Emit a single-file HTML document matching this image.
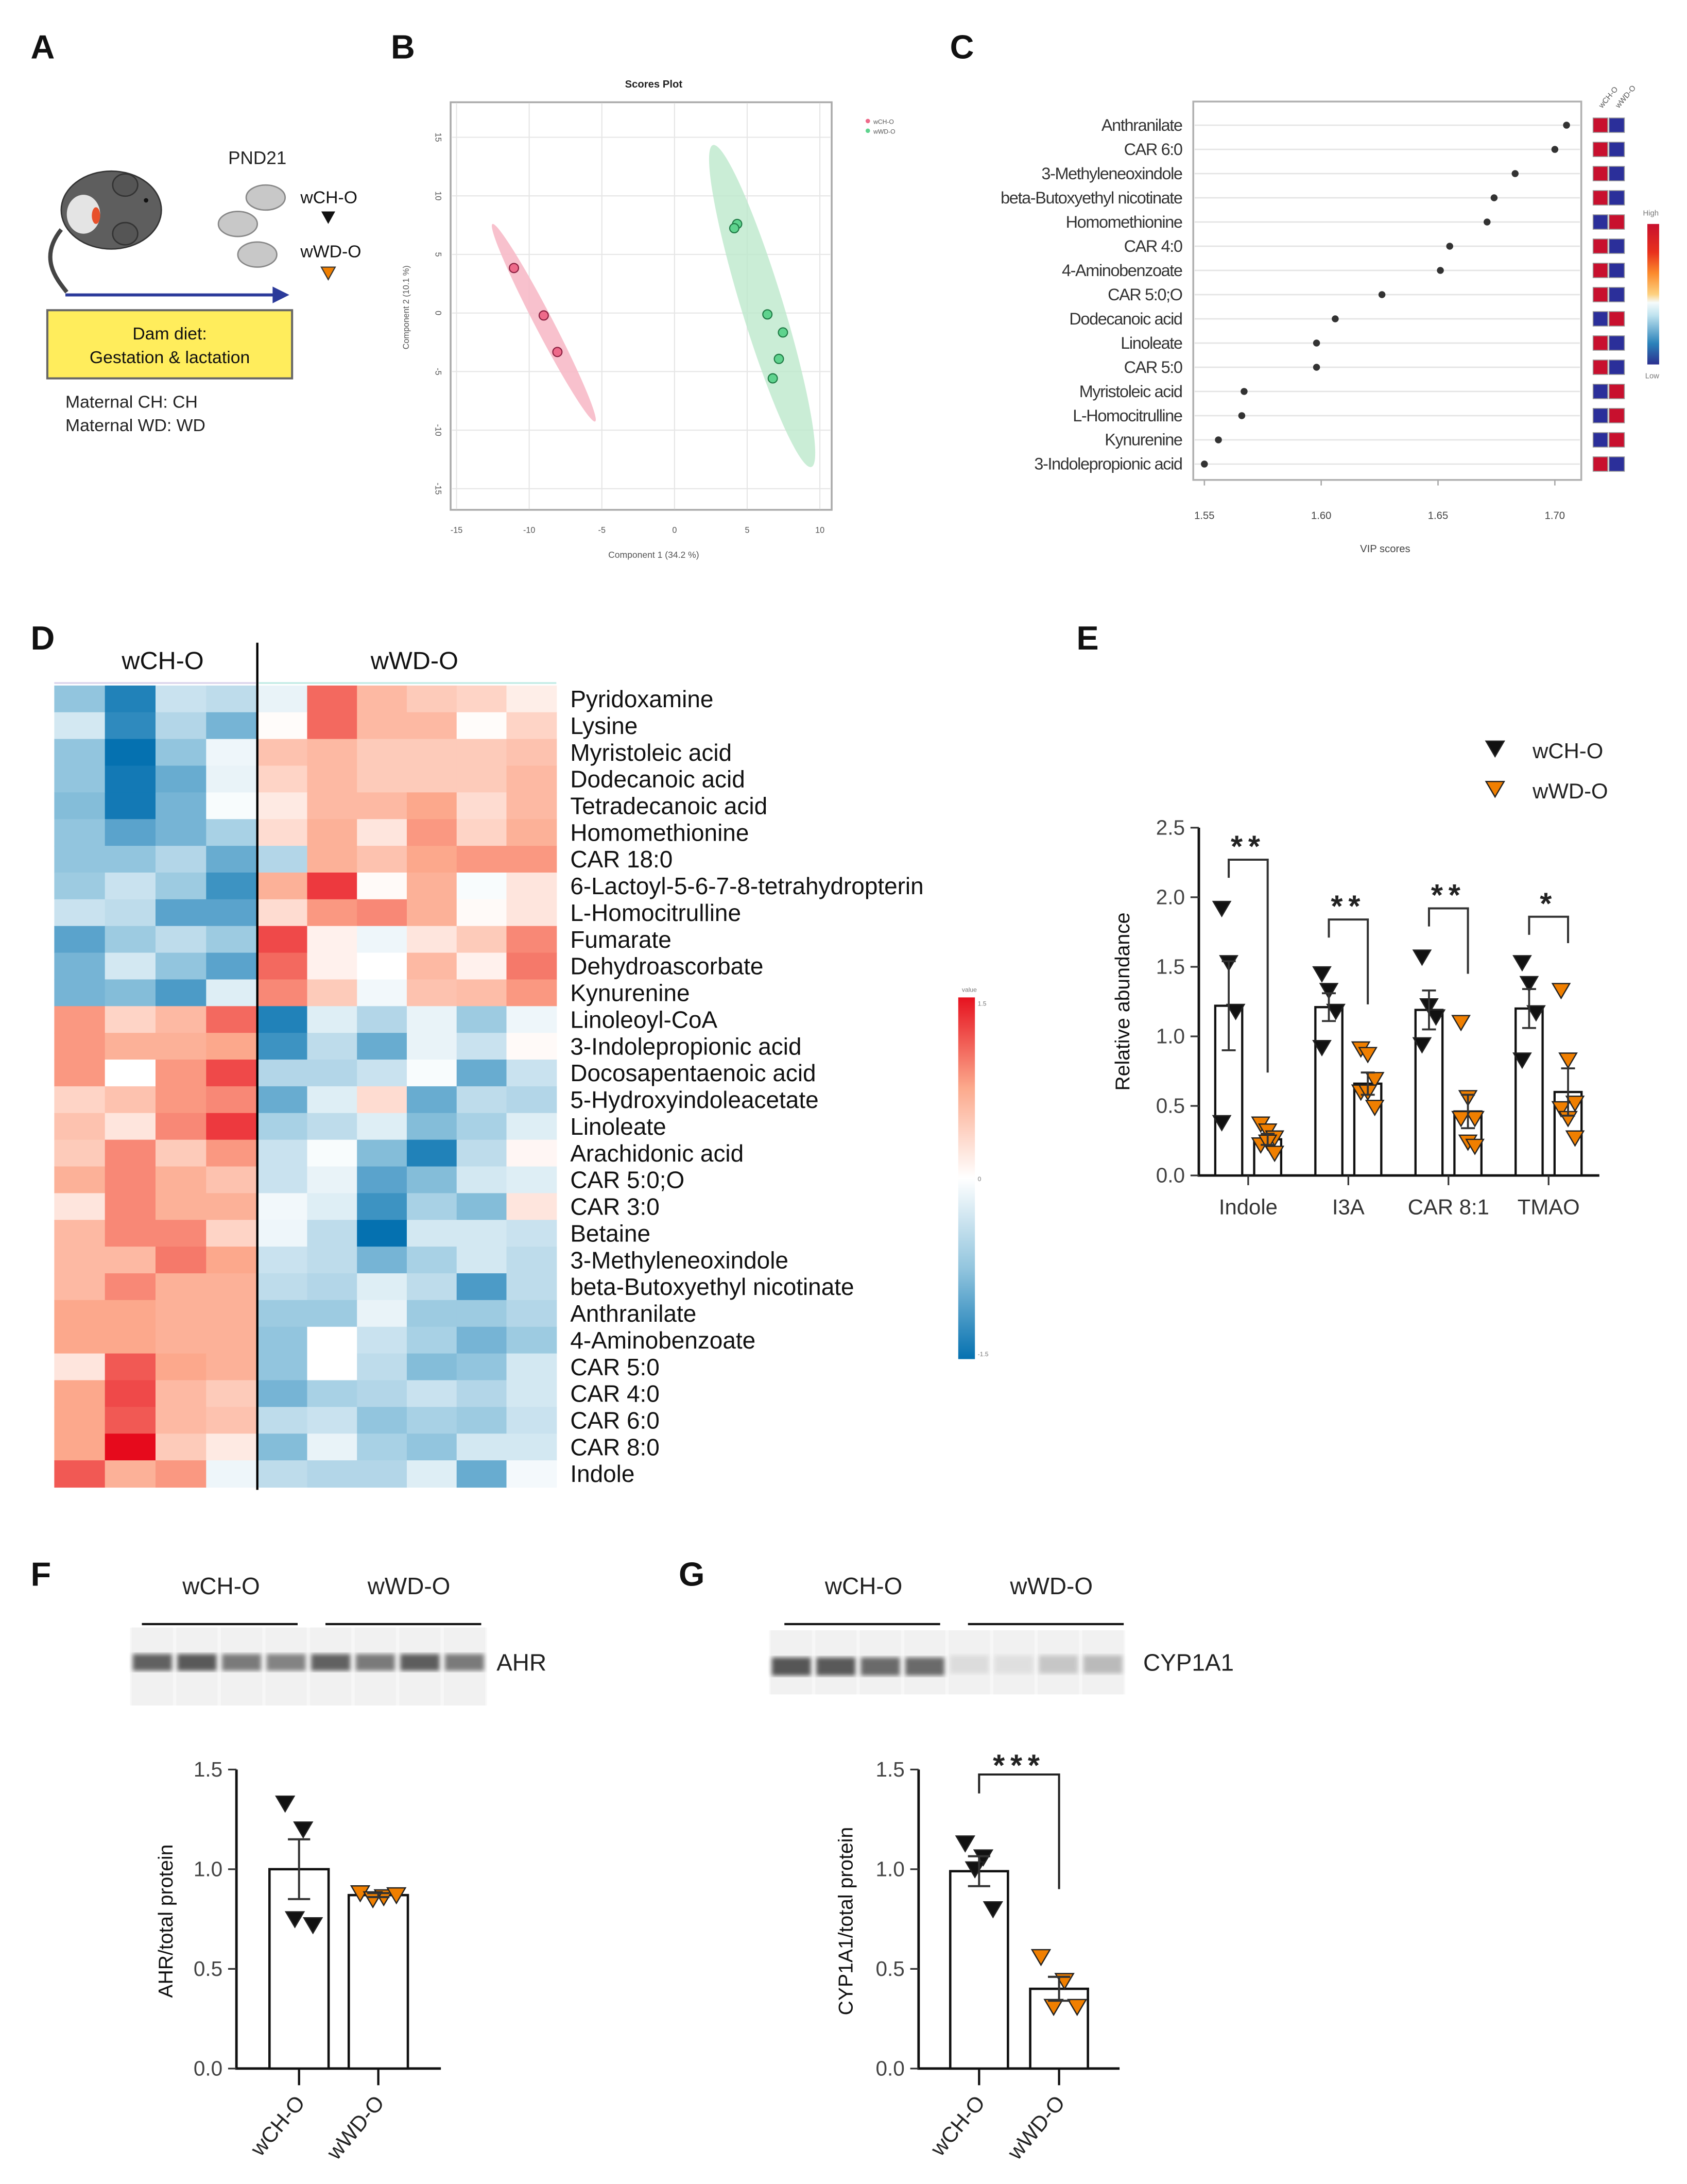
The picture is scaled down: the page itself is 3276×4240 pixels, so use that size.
<!DOCTYPE html>
<html><head><meta charset="utf-8"><style>
html,body{margin:0;padding:0;background:#fff;}
svg{display:block;font-family:"Liberation Sans",Arial,sans-serif;}
</style></head><body>
<svg id="fig" xmlns="http://www.w3.org/2000/svg" width="3276" height="4240" viewBox="0 0 1213 1570">
<defs>
<linearGradient id="hmbar" x1="0" y1="0" x2="0" y2="1"><stop offset="0" stop-color="#e6121f"/><stop offset="0.25" stop-color="#fca98c"/><stop offset="0.5" stop-color="#ffffff"/><stop offset="0.75" stop-color="#92c5de"/><stop offset="1" stop-color="#0571b0"/></linearGradient>
<linearGradient id="vipbar" x1="0" y1="0" x2="0" y2="1"><stop offset="0" stop-color="#c8102e"/><stop offset="0.2" stop-color="#e8301c"/><stop offset="0.35" stop-color="#fb8a2c"/><stop offset="0.5" stop-color="#fdd17f"/><stop offset="0.56" stop-color="#f5fbfb"/><stop offset="0.65" stop-color="#bfe3ef"/><stop offset="0.85" stop-color="#2b83ba"/><stop offset="1" stop-color="#2b2f8f"/></linearGradient>
<filter id="blur1"><feGaussianBlur stdDeviation="1.6"/></filter>
</defs>

<g font-weight="bold" font-size="24" fill="#111">
<text x="22" y="42">A</text>
<text x="281" y="42">B</text>
<text x="683" y="42">C</text>
<text x="22" y="467">D</text>
<text x="774" y="467">E</text>
<text x="22" y="1140">F</text>
<text x="488" y="1140">G</text>
</g>

<g id="panelA">
<path d="M44,165 C28,185 40,200 48,210" stroke="#444" stroke-width="3" fill="none"/>
<ellipse cx="80" cy="151" rx="36" ry="28" fill="#5e5e5e" stroke="#333" stroke-width="1"/>
<ellipse cx="90" cy="133" rx="9" ry="8" fill="#555" stroke="#333"/>
<ellipse cx="90" cy="168" rx="9" ry="8" fill="#555" stroke="#333"/>
<ellipse cx="60" cy="154" rx="12" ry="14" fill="#e4e4e4"/>
<ellipse cx="69" cy="155" rx="3" ry="6" fill="#e8502a"/>
<circle cx="105" cy="144" r="1.6" fill="#111"/>
<text x="185" y="118" font-size="13" text-anchor="middle" fill="#222">PND21</text>
<ellipse cx="191" cy="142" rx="14" ry="9" fill="#c8c8c8" stroke="#888"/>
<ellipse cx="171" cy="161" rx="14" ry="9" fill="#c8c8c8" stroke="#888"/>
<ellipse cx="185" cy="183" rx="14" ry="9" fill="#c8c8c8" stroke="#888"/>
<text x="216" y="146" font-size="12.5" fill="#111">wCH-O</text>
<path d="M231,152 L241,152 L236,161 Z" fill="#111"/>
<text x="216" y="185" font-size="12.5" fill="#111">wWD-O</text>
<path d="M231,192 L241,192 L236,201 Z" fill="#f07f00" stroke="#333" stroke-width="0.8"/>
<line x1="47" y1="212" x2="198" y2="212" stroke="#2b3a9a" stroke-width="2.2"/>
<path d="M196,206 L208,212 L196,218 Z" fill="#2b3a9a"/>
<rect x="34" y="223" width="176" height="49" fill="#ffed5c" stroke="#666" stroke-width="1.5"/>
<text x="122" y="244" font-size="12.5" text-anchor="middle" fill="#111">Dam diet:</text>
<text x="122" y="261" font-size="12.5" text-anchor="middle" fill="#111">Gestation &amp; lactation</text>
<text x="47" y="293" font-size="12.5" fill="#222">Maternal CH: CH</text>
<text x="47" y="310" font-size="12.5" fill="#222">Maternal WD: WD</text>
</g>

<g id="panelB"></g>
<g id="panelC"></g>
<g id="panelD"></g>
<g id="panelE"></g>
<g id="panelF"></g>
<g id="panelG"></g>
</svg>

<script>
// Panel B (PLS-DA scores)
const bPinkX = [-11.05, -9.0, -8.06];
const bPinkY = [3.84, -0.21, -3.33];
const bGreenX = [4.31, 4.11, 6.39, 7.46, 7.18, 6.76];
const bGreenY = [7.6, 7.24, -0.12, -1.66, -3.92, -5.58];
const bXTicks = [-15, -10, -5, 0, 5, 10];
const bYTicks = [15, 10, 5, 0, -5, -10, -15];

// Panel C (VIP)
const vipNames = ["Anthranilate","CAR 6:0","3-Methyleneoxindole","beta-Butoxyethyl  nicotinate","Homomethionine","CAR 4:0","4-Aminobenzoate","CAR 5:0;O","Dodecanoic  acid","Linoleate","CAR 5:0","Myristoleic acid","L-Homocitrulline","Kynurenine","3-Indolepropionic  acid"];
const vipScores = [1.705, 1.700, 1.683, 1.674, 1.671, 1.655, 1.651, 1.626, 1.606, 1.598, 1.598, 1.567, 1.566, 1.556, 1.550];
const vipCHHigh = [1,1,1,1,0,1,1,1,0,1,1,0,0,0,1];
const vipTicks = [1.55, 1.60, 1.65, 1.70];

// Panel D (heatmap)
const hmRows = ["Pyridoxamine","Lysine","Myristoleic acid","Dodecanoic acid","Tetradecanoic acid","Homomethionine","CAR 18:0","6-Lactoyl-5-6-7-8-tetrahydropterin","L-Homocitrulline","Fumarate","Dehydroascorbate","Kynurenine","Linoleoyl-CoA","3-Indolepropionic acid","Docosapentaenoic acid","5-Hydroxyindoleacetate","Linoleate","Arachidonic acid","CAR 5:0;O","CAR 3:0","Betaine","3-Methyleneoxindole","beta-Butoxyethyl nicotinate","Anthranilate","4-Aminobenzoate","CAR 5:0","CAR 4:0","CAR 6:0","CAR 8:0","Indole"];
const hmValues = [
[-0.5,-0.9,-0.25,-0.3,-0.1,0.7,0.4,0.3,0.25,0.1],
[-0.2,-0.85,-0.35,-0.6,0.02,0.7,0.4,0.4,0.02,0.25],
[-0.5,-1.0,-0.5,-0.08,0.35,0.4,0.3,0.3,0.3,0.35],
[-0.5,-0.95,-0.65,-0.1,0.25,0.4,0.3,0.3,0.3,0.4],
[-0.55,-0.95,-0.6,-0.03,0.12,0.4,0.4,0.5,0.2,0.4],
[-0.5,-0.7,-0.6,-0.4,0.2,0.45,0.15,0.55,0.25,0.45],
[-0.5,-0.5,-0.35,-0.65,-0.35,0.45,0.35,0.5,0.55,0.55],
[-0.45,-0.25,-0.45,-0.8,0.45,0.85,0.03,0.45,-0.03,0.15],
[-0.25,-0.3,-0.7,-0.7,0.2,0.55,0.6,0.45,0.03,0.15],
[-0.7,-0.45,-0.3,-0.45,0.8,0.08,-0.08,0.15,0.3,0.6],
[-0.6,-0.2,-0.5,-0.7,0.7,0.08,0.0,0.4,0.08,0.65],
[-0.6,-0.55,-0.75,-0.15,0.6,0.3,-0.06,0.35,0.38,0.55],
[0.55,0.25,0.4,0.7,-0.9,-0.15,-0.35,-0.1,-0.45,-0.08],
[0.55,0.45,0.45,0.5,-0.8,-0.3,-0.65,-0.1,-0.25,0.03],
[0.55,0.0,0.55,0.8,-0.35,-0.35,-0.25,-0.03,-0.65,-0.25],
[0.25,0.35,0.55,0.6,-0.65,-0.15,0.2,-0.65,-0.3,-0.35],
[0.35,0.15,0.6,0.85,-0.4,-0.3,-0.15,-0.55,-0.4,-0.15],
[0.3,0.6,0.3,0.55,-0.25,-0.03,-0.55,-0.9,-0.3,0.05],
[0.45,0.6,0.45,0.35,-0.25,-0.1,-0.7,-0.55,-0.2,-0.15],
[0.15,0.6,0.45,0.45,-0.06,-0.15,-0.8,-0.4,-0.55,0.15],
[0.4,0.6,0.6,0.25,-0.08,-0.3,-1.0,-0.2,-0.2,-0.25],
[0.4,0.4,0.65,0.5,-0.25,-0.3,-0.6,-0.4,-0.2,-0.3],
[0.4,0.6,0.45,0.45,-0.3,-0.35,-0.15,-0.3,-0.75,-0.3],
[0.5,0.5,0.45,0.45,-0.45,-0.45,-0.1,-0.45,-0.45,-0.35],
[0.5,0.5,0.45,0.45,-0.5,0.0,-0.25,-0.4,-0.6,-0.45],
[0.15,0.75,0.5,0.45,-0.5,0.0,-0.3,-0.55,-0.5,-0.2],
[0.5,0.8,0.4,0.3,-0.6,-0.4,-0.35,-0.25,-0.35,-0.2],
[0.5,0.75,0.4,0.35,-0.3,-0.25,-0.5,-0.4,-0.45,-0.25],
[0.5,1.0,0.3,0.12,-0.55,-0.1,-0.4,-0.5,-0.2,-0.2],
[0.75,0.45,0.55,-0.08,-0.3,-0.35,-0.35,-0.15,-0.65,-0.05]
];

// Panel E
const eCategories = ["Indole","I3A","CAR 8:1","TMAO"];
const eCHMean = [1.22, 1.21, 1.19, 1.20];
const eCHSem = [0.32, 0.10, 0.14, 0.14];
const eWDMean = [0.26, 0.66, 0.46, 0.60];
const eWDSem = [0.04, 0.08, 0.12, 0.17];
const eCHPoints = [[1.92,1.53,1.18,0.38],[1.45,1.33,1.18,0.92],[1.57,1.22,1.14,0.94],[1.53,1.38,1.17,0.83]];
const eWDPoints = [[0.37,0.32,0.27,0.22,0.24,0.16],[0.91,0.87,0.69,0.6,0.6,0.49],[1.1,0.56,0.41,0.41,0.24,0.21],[1.33,0.83,0.52,0.48,0.41,0.27]];
const eSig = ["**","**","**","*"];
const eBracketTop = [2.27, 1.84, 1.92, 1.86];
const eLeftEnd = [2.14, 1.71, 1.79, 1.73];
const eRightEnd = [0.74, 1.23, 1.45, 1.67];
const eYTicks = ["0.0","0.5","1.0","1.5","2.0","2.5"];

// Panel F
const fMean = [1.0, 0.87];
const fSem = [0.15, 0.01];
const fPoints = [[1.33,1.2,0.75,0.72],[0.88,0.86,0.85,0.87]];
const fLanes = [0.85,0.9,0.7,0.65,0.85,0.7,0.88,0.7];

// Panel G
const gMean = [0.99, 0.40];
const gSem = [0.075, 0.06];
const gPoints = [[1.13,1.06,1.0,0.8],[0.56,0.44,0.31,0.31]];
const gLanes = [0.92,0.9,0.8,0.8,0.12,0.1,0.25,0.32];
const fgYTicks = ["0.0","0.5","1.0","1.5"];
const fgGroups = ["wCH-O","wWD-O"];

const NS = "http://www.w3.org/2000/svg";
function mk(tag, attrs, parent) {
  const el = document.createElementNS(NS, tag);
  for (const k in attrs) el.setAttribute(k, attrs[k]);
  parent.appendChild(el);
  return el;
}
function txt(str, attrs, parent) {
  const t = mk('text', attrs, parent);
  t.textContent = str;
  return t;
}
function tri(cx, cy, s, fill, parent) {
  return mk('path', {d:`M${cx-s},${cy-s*0.8} L${cx+s},${cy-s*0.8} L${cx},${cy+s*0.9} Z`, fill:fill, stroke:'#222', 'stroke-width':0.9}, parent);
}

// ---------- Panel B ----------
(function(){
  const g = document.getElementById('panelB');
  const bx = v => 485 + v*10.45;
  const by = v => 225 - v*8.42;
  const tt = txt('Scores Plot', {x:470, y:63, 'font-size':7.5, 'font-weight':'bold', 'text-anchor':'middle', fill:'#222'}, g);
  
  
  const box = mk('rect', {x:324, y:73.5, width:274, height:293, fill:'#fff', stroke:'#aaa', 'stroke-width':1.3}, g);
  
  
  bXTicks.forEach(v => {
    const l = mk('line', {x1:bx(v), y1:74, x2:bx(v), y2:366, stroke:'#e6e6e6', 'stroke-width':0.8}, g);
    
    
    const t = txt(String(v), {x:bx(v), y:383, 'font-size':6, 'text-anchor':'middle', fill:'#555'}, g);
    
    
  });
  bYTicks.forEach(v => {
    const l = mk('line', {x1:325, y1:by(v), x2:597, y2:by(v), stroke:'#e6e6e6', 'stroke-width':0.8}, g);
    
    
    const t = txt(String(v), {x:0, y:0, 'font-size':6, 'text-anchor':'middle', fill:'#555', transform:`translate(313,${by(v)}) rotate(90)`}, g);
    
    
  });
  const xl = txt('Component 1 (34.2 %)', {x:470, y:401, 'font-size':6.5, 'text-anchor':'middle', fill:'#555'}, g);
  
  
  const yl = txt('Component 2 (10.1 %)', {x:0, y:0, 'font-size':6, 'text-anchor':'middle', fill:'#555', transform:'translate(294,221) rotate(-90)'}, g);
  
  
  const e1 = mk('ellipse', {cx:391, cy:232, rx:80, ry:6.5, fill:'#f7b6c4', opacity:0.85, transform:'rotate(62.5 391 232)'}, g);
  
  
  const e2 = mk('ellipse', {cx:548, cy:220, rx:121, ry:15, fill:'#bde8cc', opacity:0.8, transform:'rotate(73 548 220)'}, g);
  
  
  bPinkX.forEach((v,i) => {
    const c = mk('circle', {cx:bx(v), cy:by(bPinkY[i]), r:3.3, fill:'#ee6a8a', stroke:'#8a2040', 'stroke-width':0.8}, g);
    
    
  });
  bGreenX.forEach((v,i) => {
    const c = mk('circle', {cx:bx(v), cy:by(bGreenY[i]), r:3.3, fill:'#5fd38e', stroke:'#1f7a45', 'stroke-width':0.8}, g);
    
    
  });
  const lc1 = mk('circle', {cx:624, cy:87, r:1.6, fill:'#ee6a8a'}, g);
  
  
  const lt1 = txt('wCH-O', {x:628, y:89, 'font-size':4.5, fill:'#555'}, g);
  
  
  const lc2 = mk('circle', {cx:624, cy:94, r:1.6, fill:'#5fd38e'}, g);
  
  
  const lt2 = txt('wWD-O', {x:628, y:96, 'font-size':4.5, fill:'#555'}, g);
  
  
})();

// ---------- Panel C ----------
(function(){
  const g = document.getElementById('panelC');
  const xc = v => 866 + (v-1.55)*1680;
  const yc = i => 90 + i*17.4;
  const fr = mk('rect', {x:858, y:73, width:279, height:272, fill:'none', stroke:'#b0b0b0', 'stroke-width':1.3}, g);
  
  
  vipNames.forEach((n,i) => {
    const l = mk('line', {x1:859, y1:yc(i), x2:1136, y2:yc(i), stroke:'#e4e4e4', 'stroke-width':1}, g);
    
    
    const t = txt(n, {x:850, y:yc(i)+4, 'font-size':12, 'text-anchor':'end', fill:'#333', 'letter-spacing':'-0.5'}, g);
    
    
    const d = mk('circle', {cx:xc(vipScores[i]), cy:yc(i), r:2.5, fill:'#333'}, g);
    
    
    const c1 = vipCHHigh[i] ? '#c8102e' : '#2b2f9a';
    const c2 = vipCHHigh[i] ? '#2b2f9a' : '#c8102e';
    const s1 = mk('rect', {x:1145.5, y:yc(i)-5.2, width:10.5, height:10.4, fill:c1, stroke:'#999', 'stroke-width':0.6}, g);
    
    
    const s2 = mk('rect', {x:1157, y:yc(i)-5.2, width:11, height:10.4, fill:c2, stroke:'#999', 'stroke-width':0.6}, g);
    
    
  });
  vipTicks.forEach(v => {
    const tk = mk('line', {x1:xc(v), y1:345, x2:xc(v), y2:349, stroke:'#aaa'}, g);
    
    
    const t = txt(v.toFixed(2), {x:xc(v), y:373, 'font-size':7.5, 'text-anchor':'middle', fill:'#444'}, g);
    
    
  });
  const xt = txt('VIP scores', {x:996, y:397, 'font-size':7.5, 'text-anchor':'middle', fill:'#444'}, g);
  
  
  const h1 = txt('wCH-O', {x:0, y:0, 'font-size':5.5, fill:'#555', transform:'translate(1152,78) rotate(-50)'}, g);
  
  
  const h2 = txt('wWD-O', {x:0, y:0, 'font-size':5.5, fill:'#555', transform:'translate(1164,78) rotate(-50)'}, g);
  
  
  const cb = mk('rect', {x:1184.5, y:161, width:8.5, height:101, fill:'url(#vipbar)'}, g);
  
  
  const hi = txt('High', {x:1187, y:155, 'font-size':5.5, fill:'#777', 'text-anchor':'middle'}, g);
  
  
  const lo = txt('Low', {x:1188, y:272, 'font-size':5.5, fill:'#777', 'text-anchor':'middle'}, g);
  
  
})();

// ---------- Panel D ----------
(function(){
  const g = document.getElementById('panelD');
  function col(v){
    const w=[255,255,255], bm=[146,197,222], bd=[5,113,176], rm=[252,168,140], rd=[230,10,28];
    let a,b,t;
    const m=Math.min(1,Math.abs(v));
    if (v<0){ if(m<0.5){a=w;b=bm;t=m/0.5;} else {a=bm;b=bd;t=(m-0.5)/0.5;} }
    else { if(m<0.5){a=w;b=rm;t=m/0.5;} else {a=rm;b=rd;t=(m-0.5)/0.5;} }
    const c=a.map((x,i)=>Math.round(x+(b[i]-x)*t));
    return `rgb(${c[0]},${c[1]},${c[2]})`;
  }
  const top=492.8, rh=(1069-492.8)/30;
  const xcol = j => j<4 ? 39 + j*36.4 : 185 + (j-4)*35.83;
  const wcol = j => j<4 ? 36.4 : 35.83;
  hmValues.forEach((row,i) => {
    row.forEach((v,j) => {
      const r = mk('rect', {x:xcol(j), y:top+i*rh, width:wcol(j)+0.4, height:rh+0.4, fill:col(v)}, g);
      
      
    });
    const t = txt(hmRows[i], {x:410, y:top+i*rh+rh/2+6, 'font-size':17, fill:'#111'}, g);
    
    
  });
  const tl1 = mk('line', {x1:39, y1:491, x2:184, y2:491, stroke:'#d9d2ea', 'stroke-width':1.2}, g);
  
  
  const tl2 = mk('line', {x1:186, y1:491, x2:400, y2:491, stroke:'#bfeae4', 'stroke-width':1.2}, g);
  
  
  const dv = mk('line', {x1:185, y1:462, x2:185, y2:1071, stroke:'#000', 'stroke-width':1.6}, g);
  
  
  const g1 = txt('wCH-O', {x:117, y:481, 'font-size':18, 'text-anchor':'middle', fill:'#111'}, g);
  
  
  const g2 = txt('wWD-O', {x:298, y:481, 'font-size':18, 'text-anchor':'middle', fill:'#111'}, g);
  
  
  const cb = mk('rect', {x:689, y:717, width:12, height:260, fill:'url(#hmbar)'}, g);
  
  
  const l0 = txt('value', {x:697, y:713, 'font-size':4.5, 'text-anchor':'middle', fill:'#777'}, g);
  
  
  const l1 = txt('1.5', {x:703, y:723, 'font-size':4.5, fill:'#777'}, g);
  
  
  const l2 = txt('0', {x:703, y:849, 'font-size':4.5, fill:'#777'}, g);
  
  
  const l3 = txt('-1.5', {x:703, y:975, 'font-size':4.5, fill:'#777'}, g);
  
  
})();

// ---------- Panel E ----------
(function(){
  const g = document.getElementById('panelE');
  const ye = v => 845 - v*100;
  const xe = i => 897.5 + i*72;
  const ax = mk('path', {d:'M862,595 L862,845 L1150,845', fill:'none', stroke:'#111', 'stroke-width':1.8}, g);
  
  
  eYTicks.forEach(s => {
    const v = parseFloat(s);
    const tk = mk('line', {x1:856, y1:ye(v), x2:862, y2:ye(v), stroke:'#333', 'stroke-width':1.2}, g);
    
    
    const t = txt(s, {x:852, y:ye(v)+5, 'font-size':15, 'text-anchor':'end', fill:'#444'}, g);
    
    
  });
  const yt = txt('Relative abundance', {x:0, y:0, 'font-size':14.5, 'text-anchor':'middle', fill:'#111', transform:'translate(812,720) rotate(-90)'}, g);
  
  
  eCategories.forEach((c,i) => {
    const cx = xe(i);
    const tk = mk('line', {x1:cx, y1:845, x2:cx, y2:852, stroke:'#333', 'stroke-width':1.2}, g);
    
    
    const t = txt(c, {x:cx, y:873, 'font-size':15.5, 'text-anchor':'middle', fill:'#333'}, g);
    
    
    [[eCHMean,eCHSem,eCHPoints,-14,'#111','wch-o'],[eWDMean,eWDSem,eWDPoints,14,'#f07f00','wwd-o']].forEach(([m,se,pts,off,color,nm]) => {
      const bc = cx+off;
      const b = mk('rect', {x:bc-9.7, y:ye(m[i]), width:19.4, height:ye(0)-ye(m[i]), fill:'#fff', stroke:'#111', 'stroke-width':1.6}, g);
      
      
      pts[i].forEach((p,k) => {
        const jx = (k%3-1)*5;
        const tr = tri(bc+jx, ye(p), 6.2, color, g);
        
        
      });
      const eb = mk('path', {d:`M${bc},${ye(m[i]-se[i])} L${bc},${ye(m[i]+se[i])} M${bc-5},${ye(m[i]+se[i])} L${bc+5},${ye(m[i]+se[i])} M${bc-5},${ye(m[i]-se[i])} L${bc+5},${ye(m[i]-se[i])}`, stroke:'#333', 'stroke-width':1.4, fill:'none'}, g);
      
      
    });
    const br = mk('path', {d:`M${cx-14},${ye(eLeftEnd[i])} L${cx-14},${ye(eBracketTop[i])} L${cx+14},${ye(eBracketTop[i])} L${cx+14},${ye(eRightEnd[i])}`, stroke:'#333', 'stroke-width':1.5, fill:'none'}, g);
    
    
    const st = txt(eSig[i], {x:cx, y:ye(eBracketTop[i])-2, 'font-size':22, 'font-weight':'bold', 'text-anchor':'middle', fill:'#222', 'letter-spacing':'4'}, g);
    
    
  });
  const m1 = tri(1075, 538, 6.5, '#111', g);
  
  
  const t1 = txt('wCH-O', {x:1102, y:545, 'font-size':15.5, fill:'#222'}, g);
  
  
  const m2 = tri(1075, 567, 6.5, '#f07f00', g);
  
  
  const t2 = txt('wWD-O', {x:1102, y:574, 'font-size':15.5, fill:'#222'}, g);
  
  
})();

// ---------- Panels F & G ----------
function westernPanel(gid, cfg){
  const g = document.getElementById(gid);
  const yv = v => 1487 - v*143.3;
  const bg = mk('rect', {x:cfg.blotX, y:cfg.blotY, width:cfg.blotW, height:cfg.blotH, fill:'#f7f7f7'}, g);
  
  
  const lw = cfg.blotW/8;
  cfg.lanes.forEach((a,k) => {
    const lx = cfg.blotX + k*lw;
    const ln = mk('rect', {x:lx+1.2, y:cfg.blotY, width:lw-2.4, height:cfg.blotH, fill:'#f1f1f1'}, g);
    
    
    const bd = mk('rect', {x:lx+2, y:cfg.bandY + (k<4?cfg.chShift:0), width:lw-4, height:cfg.bandH, fill:'#4a4a4a', opacity:a, filter:'url(#blur1)'}, g);
    
    
  });
  fgGroups.forEach((n,k) => {
    const t = txt(n, {x:cfg.grpX[k], y:1146, 'font-size':17, 'text-anchor':'middle', fill:'#222'}, g);
    
    
    const l = mk('line', {x1:cfg.lineX[k][0], y1:1167.5, x2:cfg.lineX[k][1], y2:1167.5, stroke:'#111', 'stroke-width':1.6}, g);
    
    
  });
  const pl = txt(cfg.protein, {x:cfg.protX, y:1201, 'font-size':17, fill:'#222'}, g);
  
  
  const ax = mk('path', {d:`M${cfg.axX},${yv(1.5)} L${cfg.axX},${yv(0)} L${cfg.axEnd},${yv(0)}`, fill:'none', stroke:'#111', 'stroke-width':1.8}, g);
  
  
  fgYTicks.forEach(s => {
    const v = parseFloat(s);
    const tk = mk('line', {x1:cfg.axX-6, y1:yv(v), x2:cfg.axX, y2:yv(v), stroke:'#333', 'stroke-width':1.2}, g);
    
    
    const t = txt(s, {x:cfg.axX-10, y:yv(v)+5, 'font-size':15, 'text-anchor':'end', fill:'#444'}, g);
    
    
  });
  const yt = txt(cfg.ylab, {x:0, y:0, 'font-size':14.5, 'text-anchor':'middle', fill:'#111', transform:`translate(${cfg.ylabX},1381) rotate(-90)`}, g);
  
  
  const colors = ['#111','#f07f00'];
  cfg.mean.forEach((m,i) => {
    const bc = cfg.centers[i];
    const b = mk('rect', {x:bc-cfg.bw/2, y:yv(m), width:cfg.bw, height:yv(0)-yv(m), fill:'#fff', stroke:'#111', 'stroke-width':1.7}, g);
    
    
    cfg.points[i].forEach((p,k) => {
      const jx = [-10,3,-3,10][k%4];
      const tr = tri(bc+jx*(i===0?1:1.3), yv(p), 6.5, colors[i], g);
      
      
    });
    const se = cfg.sem[i];
    const eb = mk('path', {d:`M${bc},${yv(m-se)} L${bc},${yv(m+se)} M${bc-8},${yv(m+se)} L${bc+8},${yv(m+se)} M${bc-8},${yv(m-se)} L${bc+8},${yv(m-se)}`, stroke:'#333', 'stroke-width':1.5, fill:'none'}, g);
    
    
    const tk = mk('line', {x1:bc, y1:yv(0), x2:bc, y2:yv(0)+12, stroke:'#111', 'stroke-width':1.6}, g);
    
    
    const t = txt(fgGroups[i], {x:0, y:0, 'font-size':15.5, 'text-anchor':'end', fill:'#222', transform:`translate(${bc+5},1512) rotate(-50)`}, g);
    
    
  });
  if (cfg.sig) {
    const [c0,c1] = cfg.centers;
    const br = mk('path', {d:`M${c0},${yv(cfg.sig.left)} L${c0},${yv(cfg.sig.top)} L${c1},${yv(cfg.sig.top)} L${c1},${yv(cfg.sig.right)}`, stroke:'#222', 'stroke-width':1.5, fill:'none'}, g);
    
    
    const st = txt(cfg.sig.text, {x:(c0+c1)/2, y:yv(cfg.sig.top)+1, 'font-size':22, 'font-weight':'bold', 'text-anchor':'middle', fill:'#222', 'letter-spacing':'4'}, g);
    
    
  }
}
westernPanel('panelF', {blotX:93.5, blotY:1170, blotW:256.5, blotH:56, bandY:1189, bandH:12, chShift:0, lanes:fLanes,
  grpX:[159,294], lineX:[[102,214],[234,346]], protein:'AHR', protX:357,
  axX:170, axEnd:317, centers:[215,272], bw:42.5, mean:fMean, sem:fSem, points:fPoints,
  ylab:'AHR/total protein', ylabX:124, sig:null});
westernPanel('panelG', {blotX:553, blotY:1172, blotW:256, blotH:46, bandY:1190, bandH:13, chShift:1.5, lanes:gLanes,
  grpX:[621,756], lineX:[[564,676],[696,808]], protein:'CYP1A1', protX:822,
  axX:660.5, axEnd:805, centers:[704,761.5], bw:41.5, mean:gMean, sem:gSem, points:gPoints,
  ylab:'CYP1A1/total protein', ylabX:613, sig:{top:1.475, left:1.38, right:0.9, text:'***'}});
</script>
</body></html>
